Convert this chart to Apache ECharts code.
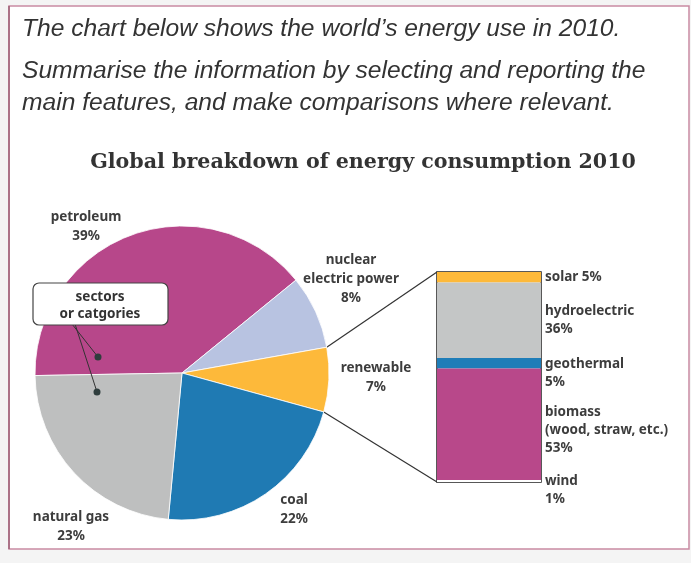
<!DOCTYPE html>
<html>
<head>
<meta charset="utf-8">
<script src="https://cdn.jsdelivr.net/npm/echarts@6/dist/echarts.min.js"></script>
<style>
  html, body { margin: 0; padding: 0; background: #f4f4f4; }
  #main { width: 691px; height: 563px; }
</style>
</head>
<body>
<div id="main"></div>
<script>
// pie: world energy use 2010 (%)
const categories = ['petroleum', 'nuclear\nelectric power', 'renewable', 'coal', 'natural gas'];
const shares = [39, 8, 7, 22, 23];
// renewable breakdown (%), top to bottom
const renewNames = ['solar', 'hydroelectric', 'geothermal', 'biomass\n(wood, straw, etc.)', 'wind'];
const renewShares = [5, 36, 5, 53, 1];

const pieColors = ['#B7478A', '#B8C3E1', '#FDB93A', '#1F7AB3', '#BEBFBF'];
const barColors = ['#FDB93A', '#C4C6C6', '#1F7DB8', '#B8488A', '#FFFFFF'];

const LABEL_FONT = '"Noto Sans", "Open Sans", sans-serif';
const CX = 182, CY = 373, R = 147, START = 181;
const BAR = { left: 437, top: 272, width: 104, height: 210 };

// where the pie labels sit (x, y of block centre)
const pieLabelPos = [[86, 227], [351, 279], [376, 378], [294, 510], [71, 527]];
// vertical nudge of the bar labels
const barLabelDy = [0, 0, 10, 6, 9];

// pie edge point at the boundary after `cum` percent
function edgePoint(cum) {
  const total = shares.reduce((a, b) => a + b, 0);
  const a = (START - cum / total * 360) * Math.PI / 180;
  return [CX + R * Math.cos(a), CY - R * Math.sin(a)];
}
const renIdx = categories.indexOf('renewable');
const cumBefore = shares.slice(0, renIdx).reduce((a, b) => a + b, 0);
const pTop = edgePoint(cumBefore);
const pBot = edgePoint(cumBefore + shares[renIdx]);

const chart = echarts.init(document.getElementById('main'));

const introLines = [
  'The chart below shows the world\u2019s energy use in 2010.',
  'Summarise the information by selecting and reporting the',
  'main features, and make comparisons where relevant.'
];
const introY = [29, 71, 103];

const graphic = [
  { type: 'rect', z: -10, shape: { x: 9, y: 6, width: 680, height: 543 },
    style: { fill: '#ffffff', stroke: '#c98aa2', lineWidth: 1.5 } },
  { type: 'line', z: -9, shape: { x1: 9, y1: 6, x2: 9, y2: 549 },
    style: { stroke: '#9c6077', lineWidth: 1.5 } },
  ...introLines.map((t, i) => ({
    type: 'text', style: {
      text: t, x: 22, y: introY[i], textVerticalAlign: 'middle',
      font: 'italic 24.6px "Liberation Sans", Arial, sans-serif', fill: '#333'
    }
  })),
  { type: 'text', style: {
      text: 'Global breakdown of energy consumption 2010', x: 363, y: 163,
      textAlign: 'center', textVerticalAlign: 'middle',
      font: 'bold 20.6px "DejaVu Serif", serif', fill: '#333'
  } },
  // callout
  { type: 'line', z: 20, shape: { x1: 72, y1: 324, x2: 98, y2: 357 }, style: { stroke: '#333', lineWidth: 1 } },
  { type: 'line', z: 20, shape: { x1: 75, y1: 324, x2: 97, y2: 392 }, style: { stroke: '#333', lineWidth: 1 } },
  { type: 'circle', z: 20, shape: { cx: 98, cy: 357, r: 3.5 }, style: { fill: '#2f3d3d' } },
  { type: 'circle', z: 20, shape: { cx: 97, cy: 392, r: 3.5 }, style: { fill: '#2f3d3d' } },
  { type: 'rect', z: 21, shape: { x: 33, y: 283, width: 135, height: 42, r: 6 },
    style: { fill: '#fff', stroke: '#444', lineWidth: 1.2 } },
  { type: 'text', z: 22, style: {
      text: 'sectors\nor catgories', x: 100, y: 306, textAlign: 'center', textVerticalAlign: 'middle',
      font: 'bold 13.5px ' + LABEL_FONT, fill: '#333', lineHeight: 17
  } },
  // connectors pie -> bar
  { type: 'line', shape: { x1: pTop[0], y1: pTop[1], x2: BAR.left, y2: BAR.top }, style: { stroke: '#333', lineWidth: 1.2 } },
  { type: 'line', shape: { x1: pBot[0], y1: pBot[1], x2: BAR.left, y2: BAR.top + BAR.height }, style: { stroke: '#333', lineWidth: 1.2 } }
];

chart.setOption({
  animation: false,
  backgroundColor: 'transparent',
  graphic: graphic,
  grid: Object.assign({ show: true, borderColor: '#222', borderWidth: 1.5, backgroundColor: 'transparent', containLabel: false }, BAR),
  xAxis: { type: 'category', data: ['renewable'], show: false },
  yAxis: { type: 'value', min: 0, max: 100, inverse: true, show: false },
  series: [
    {
      type: 'pie',
      center: [CX, CY],
      radius: R,
      startAngle: START,
      clockwise: true,
      label: {
        show: true,
        position: 'inside',
        formatter: p => p.name + '\n' + p.value + '%',
        fontFamily: LABEL_FONT,
        fontWeight: 'bold',
        fontSize: 13.5,
        lineHeight: 19,
        color: '#3d3d3d'
      },
      labelLine: { show: false },
      labelLayout: p => ({
        x: pieLabelPos[p.dataIndex][0],
        y: pieLabelPos[p.dataIndex][1],
        align: 'center',
        verticalAlign: 'middle'
      }),
      itemStyle: { borderColor: '#fff', borderWidth: 0.8 },
      emphasis: { disabled: true },
      data: categories.map((c, i) => ({ name: c, value: shares[i], itemStyle: { color: pieColors[i] } }))
    },
    ...renewNames.map((n, i) => ({
      type: 'bar',
      name: n,
      stack: 'renew',
      barWidth: '100%',
      itemStyle: { color: barColors[i] },
      label: {
        show: true,
        position: 'right',
        distance: 4,
        offset: [0, barLabelDy[i]],
        formatter: () => n + (i === 0 ? ' ' : '\n') + renewShares[i] + '%',
        fontFamily: LABEL_FONT,
        fontWeight: 'bold',
        fontSize: 13.5,
        lineHeight: 18,
        color: '#3d3d3d'
      },
      emphasis: { disabled: true },
      data: [renewShares[i]]
    }))
  ]
});
</script>
</body>
</html>
